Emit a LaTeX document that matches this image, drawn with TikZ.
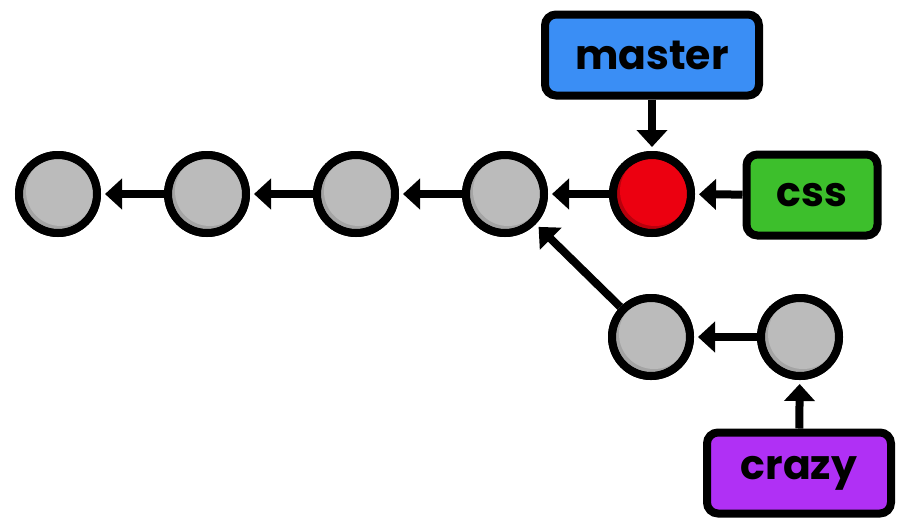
\documentclass[tikz,border=0pt]{standalone}
\usepackage{fontspec}
\setmainfont{Poppins}
\usetikzlibrary{arrows.meta}
\definecolor{cgray}{HTML}{BBBBBB}
\definecolor{cgrayd}{HTML}{A4A4A4}
\definecolor{cred}{HTML}{EC0010}
\definecolor{credd}{HTML}{B8000C}
\definecolor{cblue}{HTML}{3A8EF5}
\definecolor{cgreen}{HTML}{3DBF2C}
\definecolor{cpurple}{HTML}{B030F5}
\tikzset{
  commit/.style={circle, draw=black, line width=8pt, minimum size=78pt, inner sep=0pt, fill=#1},
  commit/.default=cgray,
  branch/.style={draw=black, line width=8pt, rounded corners=11pt, fill=#1, inner sep=0pt,
    font=\fontsize{41}{41}\selectfont\bfseries, minimum height=81pt},
  link/.style={line width=8pt, -{Triangle[length=17pt,width=30pt]}, shorten >=4pt}
}
\begin{document}
\begin{tikzpicture}[x=1pt,y=-1pt]
\useasboundingbox (0,0) rectangle (897,523);
% commits
\node[commit] (c1) at (58,194) {};
\node[commit] (c2) at (207,194) {};
\node[commit] (c3) at (356,194) {};
\node[commit] (c4) at (505,194) {};
\node[commit=cred] (c5) at (652,194) {};
\node[commit] (d1) at (651,337) {};
\node[commit] (d2) at (800,337) {};
% subtle shading
\foreach \n/\c/\d in {c1/cgray/cgrayd,c2/cgray/cgrayd,c3/cgray/cgrayd,c4/cgray/cgrayd,c5/cred/credd,d1/cgray/cgrayd,d2/cgray/cgrayd}{
  \begin{scope}
    \clip (\n.center) circle (35pt);
    \fill[\d] (\n.center) circle (36pt);
    \fill[\c] ([xshift=3pt,yshift=3pt]\n.center) circle (35pt);
  \end{scope}
  \draw[line width=8pt] (\n.center) circle (39pt);
}
% branches
\node[branch=cblue, minimum width=214pt] (master) at (652,55) {master};
\node[branch=cgreen, minimum width=131pt] (css) at (812,195) {css};
\node[branch=cpurple, minimum width=184pt] (crazy) at (799,473) {crazy};
% links
\draw[link] (c2) -- (c1);
\draw[link] (c3) -- (c2);
\draw[link] (c4) -- (c3);
\draw[link] (c5) -- (c4);
\draw[link] (d1) -- (c4);
\draw[link] (d2) -- (d1);
\draw[link] (master) -- (c5);
\draw[link] (css) -- (c5);
\draw[link] (crazy) -- (d2);
\end{tikzpicture}
\end{document}
